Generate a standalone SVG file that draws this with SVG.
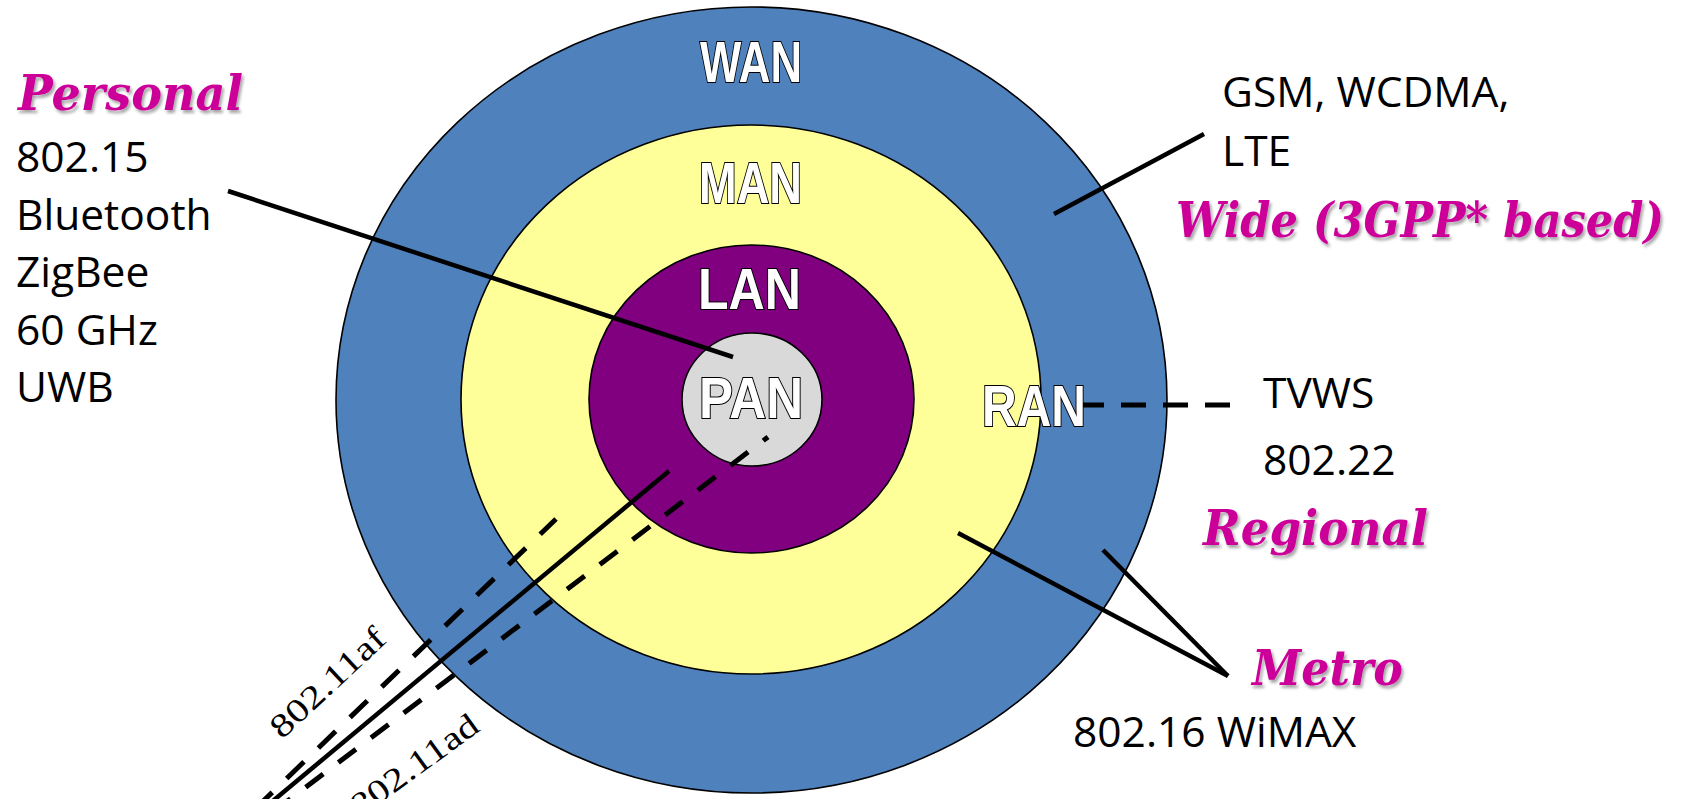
<svg xmlns="http://www.w3.org/2000/svg" width="1682" height="799" viewBox="0 0 1682 799">
<defs>
<style>
.ring{stroke:#000;stroke-width:1.6}
.lbl{font-family:"Liberation Sans",Arial,sans-serif;font-weight:bold;font-size:58px;fill:#fff;stroke:#000;stroke-width:2.2;paint-order:stroke fill}
.cat{font-family:"DejaVu Serif","Liberation Serif",serif;font-weight:bold;font-style:italic;font-size:48px;fill:#CC0099;filter:url(#sh)}
.txt{font-family:"Open Sans","Liberation Sans",sans-serif;font-size:42.5px;fill:#000}
.std{font-family:"Liberation Serif","DejaVu Serif",serif;font-size:33px;fill:#000}
.ln{stroke:#000;stroke-width:4.5;fill:none}
.dl{stroke:#000;stroke-width:5;fill:none}
</style>
<filter id="sh" x="-10%" y="-20%" width="130%" height="160%">
<feDropShadow dx="2" dy="3" stdDeviation="1.5" flood-color="#000" flood-opacity="0.35"/>
</filter>
</defs>
<rect width="1682" height="799" fill="#fff"/>
<g id="wan"><ellipse class="ring" cx="751.5" cy="400" rx="415.5" ry="393" fill="#4F81BD"/></g>
<g id="man"><ellipse class="ring" cx="751" cy="399.5" rx="290" ry="274.5" fill="#FFFF99"/></g>
<g id="lan"><ellipse class="ring" cx="751.5" cy="399" rx="162.5" ry="154" fill="#800080"/></g>
<g id="pan"><ellipse class="ring" cx="752" cy="399.5" rx="70" ry="66.5" fill="#D9D9D9"/></g>
<g id="connectors">
<line class="ln" x1="228" y1="191" x2="733" y2="357"/>
<line class="ln" x1="1054" y1="214" x2="1204" y2="134"/>
<line class="dl" x1="1230" y1="405" x2="1080" y2="405" stroke-dasharray="25 17"/>
<line class="ln" x1="958" y1="533" x2="1228" y2="676"/>
<line class="ln" x1="1103" y1="550" x2="1228" y2="676"/>
<line class="ln" x1="669" y1="471" x2="262" y2="810"/>
<line class="dl" x1="255" y1="809" x2="556" y2="519" stroke-dasharray="24 20"/>
<line class="dl" x1="273" y1="812" x2="768" y2="437" stroke-dasharray="22 19"/>
</g>
<g id="labels">
<text class="lbl" x="700" y="82" textLength="102" lengthAdjust="spacingAndGlyphs">WAN</text>
<text class="lbl" x="699" y="203" textLength="103" lengthAdjust="spacingAndGlyphs">MAN</text>
<text class="lbl" x="698" y="309" textLength="103" lengthAdjust="spacingAndGlyphs">LAN</text>
<text class="lbl" x="699" y="418" textLength="104" lengthAdjust="spacingAndGlyphs">PAN</text>
<text class="lbl" x="982" y="426" textLength="104" lengthAdjust="spacingAndGlyphs">RAN</text>
</g>
<g id="personal">
<text class="cat" x="18" y="110" textLength="225" lengthAdjust="spacingAndGlyphs">Personal</text>
<text class="txt" x="16" y="172">802.15</text>
<text class="txt" x="16" y="230">Bluetooth</text>
<text class="txt" x="16" y="287">ZigBee</text>
<text class="txt" x="16" y="345">60 GHz</text>
<text class="txt" x="16" y="402">UWB</text>
</g>
<g id="wide">
<text class="txt" x="1222" y="107">GSM, WCDMA,</text>
<text class="txt" x="1222" y="166">LTE</text>
<text class="cat" x="1176" y="237" textLength="488" lengthAdjust="spacingAndGlyphs">Wide (3GPP* based)</text>
</g>
<g id="regional">
<text class="txt" x="1263" y="408">TVWS</text>
<text class="txt" x="1263" y="475">802.22</text>
<text class="cat" x="1203" y="545" textLength="225" lengthAdjust="spacingAndGlyphs">Regional</text>
</g>
<g id="metro">
<text class="cat" x="1252" y="685" textLength="151" lengthAdjust="spacingAndGlyphs">Metro</text>
<text class="txt" x="1073" y="747">802.16 WiMAX</text>
</g>
<g id="wifi">
<text class="std" transform="translate(282,740) rotate(-43)" textLength="145" lengthAdjust="spacingAndGlyphs">802.11af</text>
<text class="std" transform="translate(360,818) rotate(-36)" textLength="150" lengthAdjust="spacingAndGlyphs">802.11ad</text>
</g>
</svg>
